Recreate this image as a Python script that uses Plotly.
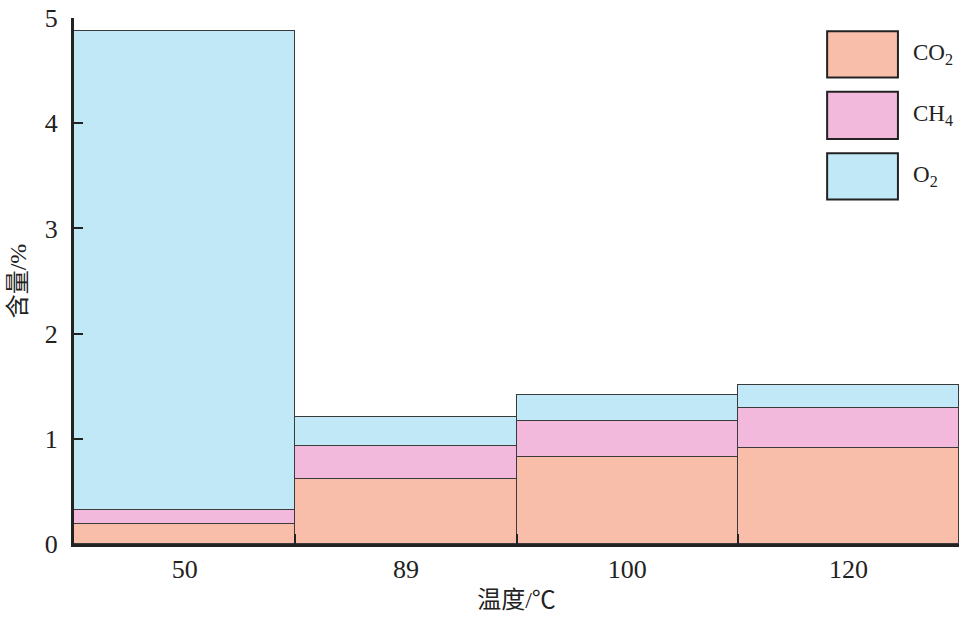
import plotly.graph_objects as go

categories = ["50", "89", "100", "120"]
co2 = [0.19, 0.62, 0.83, 0.91]
ch4 = [0.13, 0.31, 0.34, 0.38]
o2 = [4.56, 0.28, 0.25, 0.22]
series_names = ["CO<sub>2</sub>", "CH<sub>4</sub>", "O<sub>2</sub>"]
colors = ["#F8BEA9", "#F2B9DC", "#C1E8F7"]
y_ticks = [0, 1, 2, 3, 4, 5]

FONT = "Liberation Serif, Times New Roman, Noto Sans CJK SC, serif"

fig = go.Figure()
for name, vals, col in zip(series_names, [co2, ch4, o2], colors):
    fig.add_trace(go.Bar(
        x=categories, y=vals, name=name,
        marker=dict(color=col, line=dict(color="#3a3a3a", width=1)),
        showlegend=False,
    ))

# legend drawn as large boxes
box_y = [(0.975, 0.887), (0.860, 0.770), (0.743, 0.655)]
for (top, bot), col, name in zip(box_y, colors, series_names):
    fig.add_shape(type="rect", xref="paper", yref="paper",
                  x0=0.851, x1=0.931, y0=bot, y1=top,
                  fillcolor=col, line=dict(color="#222", width=2))
    fig.add_annotation(xref="paper", yref="paper", x=0.946, y=(top + bot) / 2,
                       text=name, showarrow=False, xanchor="left", yanchor="middle",
                       font=dict(family=FONT, size=23, color="#222"))

fig.update_layout(
    width=963, height=621,
    margin=dict(l=74, r=4, t=14, b=77),
    barmode="stack", bargap=0,
    plot_bgcolor="white", paper_bgcolor="white",
    font=dict(family=FONT, size=24, color="#222"),
    xaxis=dict(
        type="category", showline=True, linecolor="#222", linewidth=3,
        ticks="inside", tickson="boundaries", ticklen=10, tickcolor="#222", tickwidth=2,
        tickfont=dict(size=26), showgrid=False,
        title=dict(text="温度/℃", font=dict(size=24), standoff=8),
    ),
    yaxis=dict(
        range=[0, 5], tickvals=y_ticks, showline=True, linecolor="#222", linewidth=3,
        ticks="inside", ticklen=9, tickcolor="#222", tickwidth=2,
        tickfont=dict(size=26), showgrid=False, zeroline=False,
        ticklabelstandoff=8,
        title=dict(text="含量/%", font=dict(size=24), standoff=12),
    ),
)

fig.write_html("out.html", config={"displayModeBar": False},
               post_script="document.body.style.margin='0';document.body.style.overflow='hidden';")
